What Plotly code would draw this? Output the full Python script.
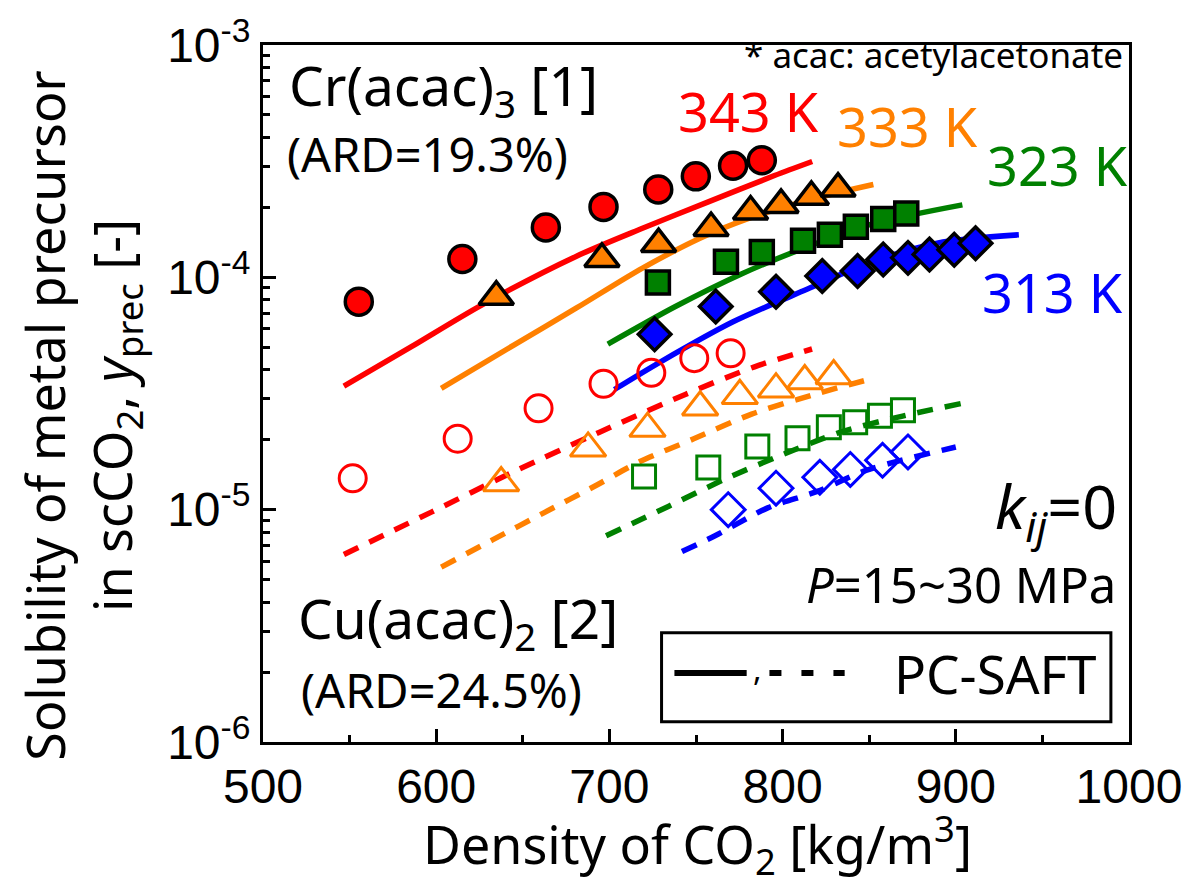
import plotly.graph_objects as go

# ---------------- data ----------------
# Cr(acac)3 experimental (filled markers)
d343 = [555.3, 615.1, 663.3, 696.6, 728.2, 749.9, 771.4, 788.0]
y343 = [7.86e-5, 1.20e-4, 1.64e-4, 2.01e-4, 2.39e-4, 2.72e-4, 3.02e-4, 3.19e-4]
d333 = [634.7, 695.7, 728.4, 758.7, 781.5, 799.1, 816.6, 832.0]
y333 = [8.25e-5, 1.20e-4, 1.39e-4, 1.63e-4, 1.92e-4, 2.05e-4, 2.22e-4, 2.41e-4]
d323 = [728.0, 767.3, 788.0, 811.8, 827.3, 842.3, 858.1, 871.4]
y323 = [9.49e-5, 1.167e-4, 1.285e-4, 1.437e-4, 1.524e-4, 1.652e-4, 1.782e-4, 1.884e-4]
d313 = [726.1, 761.4, 796.2, 822.9, 843.3, 858.1, 872.4, 884.8, 899.1, 911.4]
y313 = [5.69e-5, 7.49e-5, 8.67e-5, 1.014e-4, 1.064e-4, 1.194e-4, 1.213e-4, 1.253e-4, 1.315e-4, 1.403e-4]

# Cu(acac)2 experimental (open markers)
dcu343 = [551.8, 612.4, 659.1, 696.6, 724.2, 749.0, 770.0]
ycu343 = [1.365e-5, 2.02e-5, 2.73e-5, 3.48e-5, 3.88e-5, 4.49e-5, 4.71e-5]
dcu333 = [637.5, 687.7, 722.0, 752.4, 775.3, 796.2, 812.8, 829.5]
ycu333 = [1.303e-5, 1.836e-5, 2.233e-5, 2.76e-5, 3.09e-5, 3.30e-5, 3.58e-5, 3.76e-5]
dcu323 = [720.0, 757.1, 785.4, 808.6, 826.7, 841.9, 856.2, 869.5]
ycu323 = [1.388e-5, 1.52e-5, 1.872e-5, 2.032e-5, 2.262e-5, 2.377e-5, 2.535e-5, 2.68e-5]
dcu313 = [768.6, 796.2, 821.5, 839.1, 857.7, 872.4]
ycu313 = [1.0e-5, 1.237e-5, 1.378e-5, 1.49e-5, 1.632e-5, 1.772e-5]

# PC-SAFT curves, Cr(acac)3 (solid)
dcr343_fit = [546.7, 585.7, 625.7, 681.0, 719.1, 757.1, 795.3, 817.1]
ycr343_fit = [3.40e-5, 5.03e-5, 7.56e-5, 1.233e-4, 1.626e-4, 2.112e-4, 2.742e-4, 3.152e-4]
dcr333_fit = [602.9, 644.8, 681.0, 719.1, 757.1, 795.3, 833.4, 852.4]
ycr333_fit = [3.325e-5, 5.11e-5, 7.38e-5, 1.096e-4, 1.529e-4, 1.953e-4, 2.328e-4, 2.51e-4]
dcr323_fit = [699.1, 738.1, 776.2, 814.3, 852.4, 903.8]
ycr323_fit = [5.16e-5, 7.49e-5, 1.034e-4, 1.353e-4, 1.702e-4, 2.05e-4]
dcr313_fit = [702.9, 729.8, 771.1, 814.4, 849.8, 889.2, 936.4]
ycr313_fit = [3.29e-5, 4.34e-5, 6.42e-5, 8.90e-5, 1.154e-4, 1.404e-4, 1.524e-4]

# PC-SAFT curves, Cu(acac)2 (dashed)
dcu343_fit = [546.7, 597.2, 644.8, 694.3, 743.8, 783.8, 817.0]
ycu343_fit = [6.41e-6, 9.76e-6, 1.457e-5, 2.156e-5, 3.134e-5, 4.12e-5, 4.915e-5]
dcu333_fit = [602.9, 632.5, 662.1, 692.5, 717.3, 748.7, 782.1, 818.3, 851.6]
ycu333_fit = [5.66e-6, 7.41e-6, 9.69e-6, 1.274e-5, 1.607e-5, 2.018e-5, 2.577e-5, 3.134e-5, 3.665e-5]
dcu323_fit = [698.1, 734.3, 767.7, 800.0, 833.4, 866.7, 902.9]
ycu323_fit = [7.72e-6, 1.035e-5, 1.365e-5, 1.726e-5, 2.156e-5, 2.503e-5, 2.862e-5]
dcu313_fit = [741.9, 761.0, 791.4, 820.0, 848.6, 900.0]
ycu313_fit = [6.60e-6, 7.72e-6, 1.018e-5, 1.198e-5, 1.48e-5, 1.861e-5]

x_ticks = [500, 600, 700, 800, 900, 1000]
y_ticks = [1e-6, 1e-5, 1e-4, 1e-3]
y_ticktext = ["10<sup>-6</sup>", "10<sup>-5</sup>", "10<sup>-4</sup>", "10<sup>-3</sup>"]

RED, ORANGE, GREEN, BLUE = "#ff0000", "#ff8000", "#008000", "#0000ff"
TXT = "Noto Sans"

# ---------------- figure ----------------
W, H = 1194, 879
L, R, T, B = 263.3, 1138.3, 36.0, 742.3


def px(x):
    return (x - L) / (R - L)


def py(y):
    return (B - y) / (B - T)


fig = go.Figure()

solid = [(dcr343_fit, ycr343_fit, RED), (dcr333_fit, ycr333_fit, ORANGE),
         (dcr323_fit, ycr323_fit, GREEN), (dcr313_fit, ycr313_fit, BLUE)]
dashed = [(dcu343_fit, ycu343_fit, RED), (dcu333_fit, ycu333_fit, ORANGE),
          (dcu323_fit, ycu323_fit, GREEN), (dcu313_fit, ycu313_fit, BLUE)]
for xs, ys, c in solid:
    fig.add_trace(go.Scatter(x=xs, y=ys, mode="lines",
                             line=dict(color=c, width=5.5, shape="spline", smoothing=0.8),
                             showlegend=False, hoverinfo="skip"))
for xs, ys, c in dashed:
    fig.add_trace(go.Scatter(x=xs, y=ys, mode="lines",
                             line=dict(color=c, width=5.5, shape="spline", smoothing=0.8, dash="16px,12px"),
                             showlegend=False, hoverinfo="skip"))

openm = [(dcu343, ycu343, RED, "circle-open", 27), (dcu333, ycu333, ORANGE, "triangle-up-open", 31),
         (dcu323, ycu323, GREEN, "square-open", 23), (dcu313, ycu313, BLUE, "diamond-open", 26)]
for xs, ys, c, s, sz in openm:
    fig.add_trace(go.Scatter(x=xs, y=ys, mode="markers",
                             marker=dict(symbol=s, size=sz, color=c, line=dict(color=c, width=3)),
                             showlegend=False))

filled = [(d343, y343, RED, "circle", 27), (d333, y333, ORANGE, "triangle-up", 30),
          (d323, y323, GREEN, "square", 23), (d313, y313, BLUE, "diamond", 25)]
for xs, ys, c, s, sz in filled:
    fig.add_trace(go.Scatter(x=xs, y=ys, mode="markers",
                             marker=dict(symbol=s, size=sz, color=c, line=dict(color="black", width=3.5)),
                             showlegend=False))

fig.update_xaxes(range=[500, 1000], tickvals=x_ticks, ticks="inside", ticklen=13, tickwidth=2.5,
                 tickcolor="black", showline=True, linewidth=3, linecolor="black", mirror=True,
                 showgrid=False, zeroline=False,
                 tickfont=dict(family="Liberation Sans, Arial", size=48, color="black"),
                 minor=dict(ticks="inside", ticklen=7, tickwidth=2.5, tickcolor="black", dtick=50,
                            showgrid=False))
fig.update_yaxes(type="log", range=[-6, -3], tickvals=y_ticks, ticktext=y_ticktext, ticks="inside",
                 ticklen=13, tickwidth=2.5, tickcolor="black", showline=True, linewidth=3,
                 linecolor="black", mirror=True, showgrid=False, zeroline=False,
                 tickfont=dict(family="Liberation Sans, Arial", size=48, color="black"),
                 minor=dict(ticks="inside", ticklen=7, tickwidth=2.5, tickcolor="black", dtick="D1",
                            showgrid=False))

ann = []


def add_text(text, x, y, size, color="black", xanchor="left"):
    ann.append(dict(text=text, x=px(x), y=py(y), xref="paper", yref="paper", xanchor=xanchor,
                    yanchor="middle", showarrow=False, font=dict(family=TXT, size=size, color=color)))


add_text("* acac: acetylacetonate", 1134, 46, 35, xanchor="right")
add_text("Cr(acac)<sub>3</sub> [1]", 288, 80, 55)
add_text("(ARD=19.3%)", 286, 146, 47)
add_text("343 K", 754, 103, 54, RED, "center")
add_text("333 K", 915, 118, 54, ORANGE, "center")
add_text("323 K", 1066, 158, 54, GREEN, "center")
add_text("313 K", 1061, 286, 54, BLUE, "center")
add_text("<i>k</i><sub><i>ij</i></sub>=0", 1128, 507, 61, xanchor="right")
add_text("<i>P</i>=15~30 MPa", 1127, 582, 49, xanchor="right")
add_text("Cu(acac)<sub>2</sub> [2]", 297, 620, 55)
add_text("(ARD=24.5%)", 300, 690, 47)
add_text("PC-SAFT", 1108, 673, 53, xanchor="right")
add_text(",", 763, 668, 32, xanchor="center")

# axis titles
ann.append(dict(text="Solubility of metal precursor<br>in scCO<sub>2</sub>, <i>y</i><sub>prec</sub> [-]",
                x=px(80), y=py(412), xref="paper", yref="paper", xanchor="center", yanchor="middle",
                textangle=-90, showarrow=False, font=dict(family=TXT, size=52, color="black")))
ann.append(dict(text="Density of CO<sub>2</sub> [kg/m<sup>3</sup>]", x=px(702), y=py(846),
                xref="paper", yref="paper", xanchor="center", yanchor="middle", showarrow=False,
                font=dict(family=TXT, size=52, color="black")))

shapes = [
    dict(type="rect", xref="paper", yref="paper", x0=px(666), x1=px(1120), y0=py(721.7), y1=py(631.7),
         line=dict(color="black", width=3), fillcolor="white", layer="above"),
    dict(type="line", xref="paper", yref="paper", x0=px(679), x1=px(752), y0=py(672.5), y1=py(672.5),
         line=dict(color="black", width=6)),
    dict(type="line", xref="paper", yref="paper", x0=px(775), x1=px(851), y0=py(672.5), y1=py(672.5),
         line=dict(color="black", width=6, dash="12px,20px")),
]

fig.update_layout(width=W, height=H, margin=dict(l=L, r=W - R, t=T, b=H - B),
                  plot_bgcolor="white", paper_bgcolor="white", showlegend=False,
                  annotations=ann, shapes=shapes)

fig.write_html("out.html")
